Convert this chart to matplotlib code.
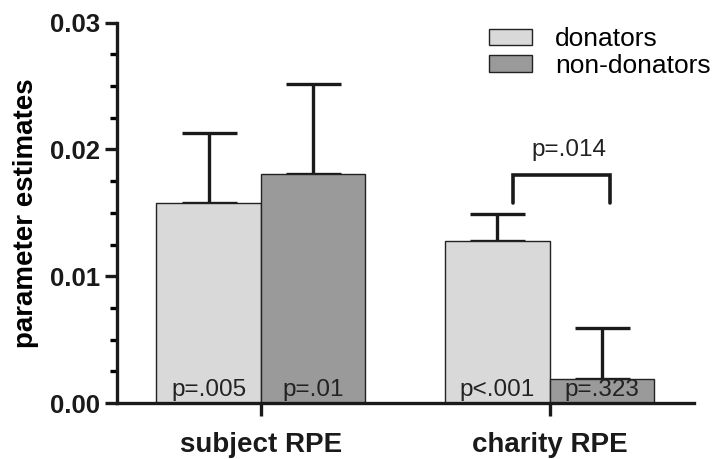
import matplotlib
matplotlib.use("Agg")
import matplotlib.pyplot as plt
import numpy as np

plt.rcParams['font.family'] = ['Liberation Sans', 'DejaVu Sans']

# data
groepen = ["subject RPE", "charity RPE"]
series = ["donators", "non-donators"]
waarden_don = [0.0158, 0.0128]
waarden_non = [0.0181, 0.0019]
fout_don = [0.0055, 0.0021]
fout_non = [0.0071, 0.0040]
pwaarden_don = ["p=.005", "p<.001"]
pwaarden_non = ["p=.01", "p=.323"]
vergelijking = "p=.014"

kleuren = ["#d9d9d9", "#9a9a9a"]

fig = plt.figure(figsize=(7.2, 4.59), dpi=100)
ax = fig.add_axes([0.1625, 0.122, 0.802, 0.8286])

x = np.arange(len(groepen))
breedte = 0.362

b1 = ax.bar(x - breedte / 2, waarden_don, breedte, color=kleuren[0],
            edgecolor="#222222", linewidth=1.0, label=series[0], zorder=2)
b2 = ax.bar(x + breedte / 2, waarden_non, breedte, color=kleuren[1],
            edgecolor="#222222", linewidth=1.0, label=series[1], zorder=2)

ax.errorbar(x - breedte / 2, waarden_don, yerr=[np.zeros(2), fout_don],
            fmt="none", ecolor="#1a1a1a", elinewidth=2.4, capsize=19.8,
            capthick=2.4, zorder=1)
ax.errorbar(x + breedte / 2, waarden_non, yerr=[np.zeros(2), fout_non],
            fmt="none", ecolor="#1a1a1a", elinewidth=2.4, capsize=19.8,
            capthick=2.4, zorder=1)

# p-waarden in de balken
for i in range(len(groepen)):
    ax.text(x[i] - breedte / 2, 0.00055, pwaarden_don[i], ha="center",
            va="baseline", fontsize=17.5, color="#222222", zorder=3)
    ax.text(x[i] + breedte / 2, 0.00055, pwaarden_non[i], ha="center",
            va="baseline", fontsize=17.5, color="#222222", zorder=3)

# haak tussen donators en non-donators bij charity
ax.plot([0.872, 0.872, 1.211, 1.211], [0.0158, 0.0180, 0.0180, 0.0158],
        color="#1a1a1a", linewidth=2.6, solid_capstyle="round",
        solid_joinstyle="miter")
ax.text(1.069, 0.01945, vergelijking, ha="center", va="baseline",
        fontsize=17.5, color="#222222")

ax.set_xlim(-0.498, 1.502)
ax.set_ylim(0, 0.03)
ax.set_xticks(x)
ax.set_xticklabels(groepen, fontsize=20, fontweight="bold")
ax.set_yticks([0.0, 0.01, 0.02, 0.03])
ax.set_yticklabels(["0.00", "0.01", "0.02", "0.03"], fontsize=18.5,
                   fontweight="bold")
ax.set_yticks(np.arange(0, 0.03, 0.0025), minor=True)
ax.set_ylabel("parameter estimates", fontsize=20, fontweight="bold",
              labelpad=8)

for kant in ["top", "right"]:
    ax.spines[kant].set_visible(False)
for kant in ["left", "bottom"]:
    ax.spines[kant].set_linewidth(2.4)
    ax.spines[kant].set_color("#1a1a1a")

ax.tick_params(axis="y", which="major", length=9, width=2.4, pad=3,
               colors="#1a1a1a")
ax.tick_params(axis="y", which="minor", length=5, width=2.4)
ax.tick_params(axis="x", which="major", length=9, width=2.4, pad=12,
               colors="#1a1a1a")
for lab in ax.get_xticklabels() + ax.get_yticklabels():
    lab.set_color("#1a1a1a")

ax.legend(loc="upper left", bbox_to_anchor=(0.654, 0.981),
          bbox_transform=fig.transFigure, frameon=False, fontsize=19,
          handlelength=1.63, handleheight=0.57, handletextpad=0.87,
          labelspacing=0.1, borderpad=0.2)

fig.savefig("out.png", dpi=100)
